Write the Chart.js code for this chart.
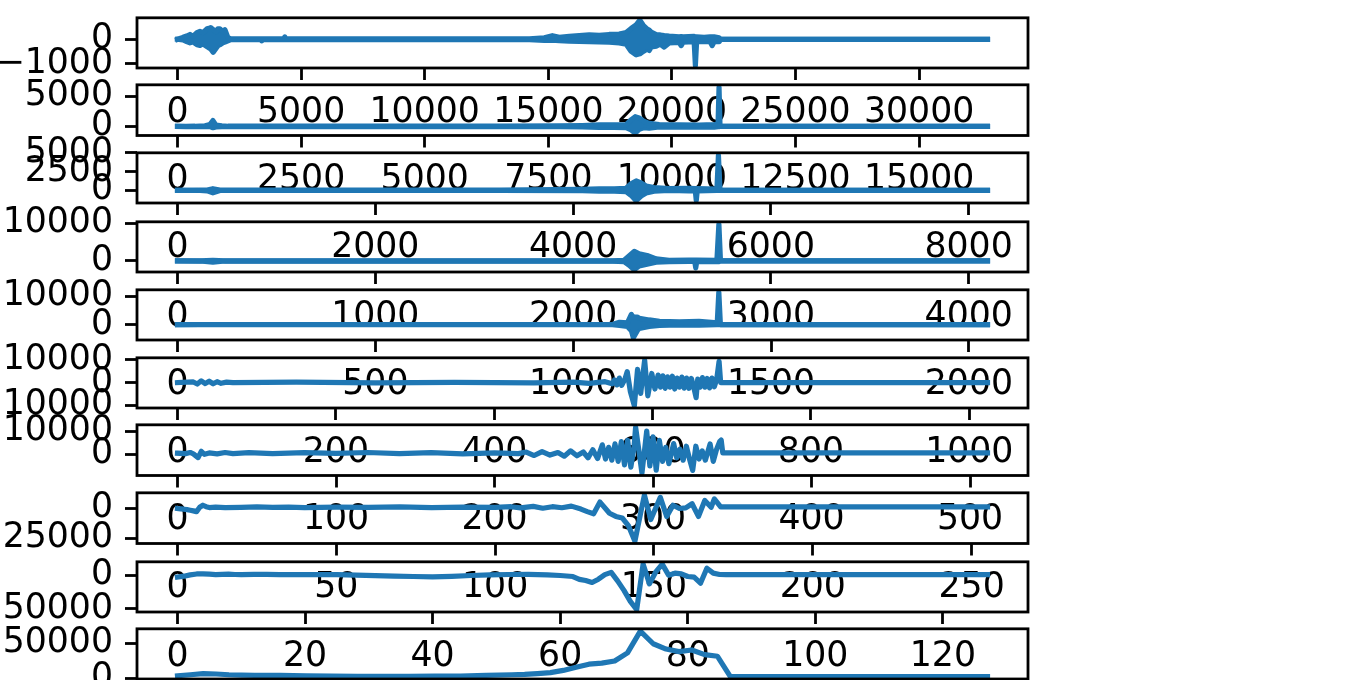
<!DOCTYPE html>
<html>
<head>
<meta charset="utf-8">
<script src="https://cdn.jsdelivr.net/npm/chart.js@4.4.1/dist/chart.umd.min.js"></script>
<style>
html,body{margin:0;padding:0;background:#ffffff;width:1370px;height:680px;overflow:hidden;position:relative;}
canvas{position:absolute;left:0;}
</style>
</head>
<body>
<script>
// ---------- DATA ----------
// Row 1: 32768 samples (dense -> upper / lower envelope)
const row1Idx = [0,222,371,505,626,787,909,1030,1191,1312,1341,1446,1555,1635,1716,1837,1918,2040,2160,2322,3380,3412,3450,4300,4340,4380,9310,14236,14840,15163,15446,15850,16254,16657,17061,17465,17869,18151,18353,18555,18704,18840,19002,19082,19163,19365,19526,19688,19890,20294,20374,20455,20900,20950,21000,21304,21547,21628,21708,21910,21975,32767];
const row1Upper = [0,82,133,200,121,277,328,277,434,460,484,395,316,434,434,316,395,70,15,15,15,15,15,15,100,15,15,15,60,150,80,120,150,180,160,200,220,280,450,600,793,580,420,380,300,200,180,150,130,100,110,100,120,100,100,80,100,100,100,60,0,0];
const row1Lower = [0,-27,-94,-145,-105,-223,-250,-184,-300,-379,-400,-535,-379,-262,-223,-145,-117,-66,-15,-15,-15,-60,-15,-15,-15,-15,-15,-15,-40,-40,-60,-80,-90,-100,-110,-120,-150,-200,-500,-640,-600,-500,-400,-460,-320,-280,-200,-320,-150,-130,-260,-120,-100,-1090,-100,-100,-100,-260,-100,-100,0,0];

// Row 2: 16384 samples
const row2Idx = [0,172,353,555,656,717,777,898,1020,1100,6511,7723,8187,8530,8833,9075,9176,9257,9338,9439,9540,9742,10146,10549,10852,10933,10953,10973,16383];
const row2Upper = [0,30,30,100,300,960,200,100,30,30,30,80,150,250,250,300,1100,1600,1400,800,500,300,250,200,300,400,6480,0,0];
const row2Lower = [0,-30,-30,-30,-40,-220,-90,-30,-30,-30,-30,-50,-100,-150,-150,-200,-590,-1120,-490,-190,-290,-90,-140,-90,-140,-30,-30,0,0];

// Row 3: 8192 samples
const row3Idx = [0,227,300,358,429,530,3255,4093,4264,4416,4537,4587,4638,4688,4739,4820,4971,5173,5236,5246,5256,5455,5470,5486,8191];
const row3Upper = [0,30,30,215,30,30,30,120,180,200,275,875,1250,975,575,375,225,275,225,225,225,175,4705,0,0];
const row3Lower = [0,-30,-75,-335,-30,-30,-30,-60,-100,-120,-175,-675,-1395,-775,-375,-125,-30,-75,-75,-1350,-75,-30,-30,0,0];

// Row 4: 4096 samples
const row4Idx = [0,114,179,240,275,1627,2132,2198,2258,2284,2309,2334,2374,2420,2485,2586,2615,2620,2625,2727,2737,2745,4095];
const row4Upper = [0,30,180,30,30,30,30,30,180,1350,2520,1850,1430,550,180,250,200,200,200,150,9723,0,0];
const row4Lower = [0,-30,-350,-30,-30,-30,-30,-30,-180,-1150,-2323,-1350,-850,-350,-180,-150,-150,-1830,-150,-180,-180,0,0];

// Row 5: 2048 samples
const row5Idx = [0,57,90,132,814,1099,1117,1137,1147,1152,1162,1167,1192,1218,1268,1318,1364,1368,1372,2047];
const row5Upper = [0,30,30,30,30,30,800,630,3560,2630,2630,2230,1630,1130,930,1130,630,11427,0,0];
const row5Lower = [0,-30,-30,-30,-30,-30,-260,-630,-2130,-4627,-2130,-1330,-630,-270,-130,-230,-30,-30,0,0];

// Row 6: 1024 samples (turning points)
const row6Idx = [0,20,25,30,35,40,45,50,55,62,70,150,250,350,450,500,520,540,549,552,555,558,561,565,568,572,577,581,585,590,594,599,603,607,610,613,616,619,622,625,628,631,634,637,640,643,646,649,652,655,657,660,663,666,669,672,675,678,681,684,686,1023];
const row6Vals = [0,300,-600,800,-400,600,-500,400,-300,200,0,200,-100,150,-150,200,-300,400,-500,1200,-1000,2000,-1200,1500,4800,-4000,-10100,5800,-4700,9850,-5800,4000,-2800,3300,-2000,3000,-2500,2500,-2000,2800,-2800,2000,-2000,2400,-2400,2000,-2500,1800,-2000,-6600,1500,-2000,2200,-2000,1800,-2300,2000,-1800,1500,9270,0,0];

// Row 7: 512 samples
const row7Idx = [0,5,8,10,13,15,17,20,25,30,35,45,60,80,100,120,140,160,180,200,215,220,225,230,235,240,244,248,252,256,259,262,265,268,270,272,274,276,278,280,282,284,286,288,289,291,293,296,298,300,302,304,306,308,310,313,315,317,319,321,323,325,327,329,331,333,336,338,340,342,343,344,511];
const row7Vals = [500,300,800,200,-1400,1300,0,600,200,800,300,700,300,700,400,800,300,700,200,600,300,1000,-500,1200,-300,800,-800,1500,-600,1000,-1500,2000,-1800,4100,-2000,3000,-2500,4500,-3000,5500,-4500,6000,-5500,3000,11709,2000,-8109,10000,-5000,7500,-6800,6000,-3000,3000,-4000,4650,-1500,2200,-2500,3500,-2000,-6900,3500,-2000,1500,-2500,4500,-3000,2000,5470,6170,600,600];

// Row 8: 256 samples
const row8Idx = [0,1,2,3,4,5,6,7,8,9,10,12,15,20,25,30,35,40,50,60,70,80,90,100,105,108,112,115,118,121,124,127,129,131,133,136,138,140,142,144,146,147,149,152,154,156,158,160,162,164,166,168,169,171,255];
const row8Vals = [0,-300,-600,-1000,-1500,-2000,-2660,1000,2740,1500,800,1200,700,1000,1300,900,1200,800,1100,900,1300,800,1200,900,1500,500,1800,200,1500,600,2000,-500,-2660,-4500,5400,-4000,-6700,-8000,-14700,-27559,-1300,11259,-9350,9400,-6700,2700,0,500,4000,-6700,6700,1000,8000,1300,1300];

// Row 9: 128 samples
const row9Idx = [0,1,2,3,4,5,6,7,8,9,10,12,14,16,19,22,25,28,31,34,37,40,43,46,49,52,55,58,60,62,63,64,65,66,67,68,69,70,71,72,73,74,75,76,77,78,79,80,81,82,83,84,85,86,127];
const row9Vals = [-2800,-1500,500,1800,2000,1500,800,1200,1500,1000,900,1100,1200,900,700,900,800,200,-800,-1500,-2000,-2500,-1800,-500,500,1000,1200,500,-500,-2000,-6200,-8000,-10900,-6000,850,4200,-8500,-22600,-39000,-51500,16500,-13000,5000,16500,0,3000,2000,-2000,-3000,-12000,10300,3000,1000,850,850];

// Row 10: 64 samples
const row10Idx = [0,1,2,3,4,5,6,8,10,12,14,16,18,20,22,24,26,27,28,29,30,31,32,33,34,35,36,37,38,39,40,41,42,43,63];
const row10Vals = [3500,5000,6500,6000,5000,4500,4000,4000,3500,3000,2800,2600,2800,3000,3200,4000,5000,5400,6700,8000,11100,15500,20000,21400,24500,36000,66999,49000,41500,37900,40200,33500,31200,2171,2171];

// sample counts per row
const rowLengths = [32768,16384,8192,4096,2048,1024,512,256,128,64];

// tick values
const xTickVals = [
  [0,5000,10000,15000,20000,25000,30000],
  [0,2500,5000,7500,10000,12500,15000],
  [0,2000,4000,6000,8000],
  [0,1000,2000,3000,4000],
  [0,500,1000,1500,2000],
  [0,200,400,600,800,1000],
  [0,100,200,300,400,500],
  [0,50,100,150,200,250],
  [0,20,40,60,80,100,120],
  [0,10,20,30,40,50,60]
];
const yTickVals = [
  [-1000,0],[0,5000],[0,2500,5000],[0,10000],[0,10000],
  [-10000,0,10000],[0,10000],[-25000,0],[-50000,0],[0,50000]
];
const yLimits = [
  [-1184,887],[-1500,6860],[-1700,5010],[-2925,10325],[-5430,12230],
  [-11100,10850],[-9100,12700],[-29500,13200],[-54900,19900],[-1070,70240]
];

// ---------- LAYOUT / STYLE ----------
const ROW_TOPS = [15,82.5,150,219,287,355,422.5,490.5,559,626];
const AX_H = 53, AX_LEFT = 137, AX_RIGHT = 1028, W = 1370;
const BLUE = '#1f77b4';
const LW = 5.2;
const FONT = {family: "'DejaVu Sans', sans-serif", size: 34.7};
const fmt = v => (v < 0 ? '\u2212' + Math.abs(v) : String(v));

const framePlugin = {
  id: 'frame',
  afterDatasetsDraw(chart) {
    const {ctx, chartArea: a} = chart;
    ctx.save();
    ctx.strokeStyle = '#000';
    ctx.lineWidth = 2.8;
    ctx.strokeRect(a.left, a.top, a.right - a.left, a.bottom - a.top);
    ctx.restore();
  }
};

const pts = (xs, ys) => xs.map((x, i) => ({x: x, y: ys[i]}));
const lineStyle = {
  borderColor: BLUE, borderWidth: LW, pointRadius: 0, tension: 0,
  borderJoinStyle: 'round', borderCapStyle: 'square', clip: 0
};

const rowData = [
  {env: [row1Idx, row1Upper, row1Lower]},
  {env: [row2Idx, row2Upper, row2Lower]},
  {env: [row3Idx, row3Upper, row3Lower]},
  {env: [row4Idx, row4Upper, row4Lower]},
  {env: [row5Idx, row5Upper, row5Lower]},
  {line: [row6Idx, row6Vals]},
  {line: [row7Idx, row7Vals]},
  {line: [row8Idx, row8Vals]},
  {line: [row9Idx, row9Vals]},
  {line: [row10Idx, row10Vals]}
];

rowData.forEach((rd, i) => {
  const n = rowLengths[i] - 1;
  const rowTop = ROW_TOPS[i];
  const cTop = Math.floor(rowTop) - 30;
  const padTop = rowTop - cTop;
  const H = Math.ceil(padTop + AX_H + 90);
  const xH = H - padTop - AX_H;
  const cv = document.createElement('canvas');
  cv.width = W; cv.height = H;
  cv.style.cssText = 'position:absolute;left:0;top:' + cTop + 'px;width:' + W + 'px;height:' + H + 'px;';
  document.body.appendChild(cv);

  let datasets;
  if (rd.env) {
    const [xs, up, lo] = rd.env;
    datasets = [
      Object.assign({data: pts(xs, up), fill: '+1', backgroundColor: BLUE}, lineStyle),
      Object.assign({data: pts(xs, lo), fill: false}, lineStyle)
    ];
  } else {
    const [xs, ys] = rd.line;
    datasets = [Object.assign({data: pts(xs, ys), fill: false}, lineStyle)];
  }

  const tickCommon = {
    autoSkip: false, maxRotation: 0, minRotation: 0, padding: 12,
    color: '#000', font: FONT, callback: v => fmt(v)
  };
  const gridCommon = {
    drawOnChartArea: false, drawTicks: true, tickLength: 12,
    tickWidth: 2.8, tickColor: '#000'
  };

  new Chart(cv, {
    type: 'line',
    data: {datasets: datasets},
    options: {
      responsive: false,
      devicePixelRatio: 1,
      animation: false,
      parsing: false,
      normalized: true,
      layout: {padding: {top: padTop, left: 0, right: W - AX_RIGHT, bottom: 0}},
      plugins: {legend: {display: false}, tooltip: {enabled: false}},
      scales: {
        x: {
          type: 'linear', min: -0.05 * n, max: 1.05 * n,
          afterBuildTicks: s => { s.ticks = xTickVals[i].map(v => ({value: v})); },
          afterFit: s => { s.height = xH; },
          grid: gridCommon, border: {display: false}, ticks: tickCommon
        },
        y: {
          type: 'linear', min: yLimits[i][0], max: yLimits[i][1],
          afterBuildTicks: s => { s.ticks = yTickVals[i].map(v => ({value: v})); },
          afterFit: s => { s.width = AX_LEFT; },
          grid: gridCommon, border: {display: false}, ticks: tickCommon
        }
      }
    },
    plugins: [framePlugin]
  });
});
</script>
</body>
</html>
